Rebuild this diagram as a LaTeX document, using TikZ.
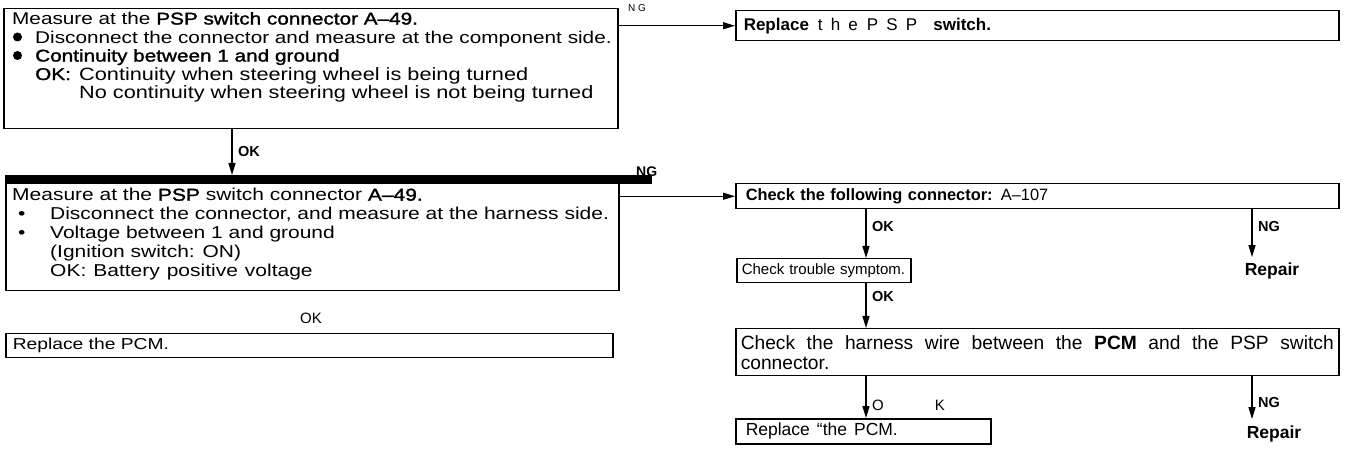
\documentclass[tikz,border=0pt]{standalone}
\usepackage{fontspec}
\setmainfont{Liberation Sans}
\newfontfamily\wide{Liberation Sans}[FakeStretch=1.22]
\newfontfamily\widebf{Liberation Sans}[FakeStretch=1.22,FakeBold=1.6]
\usetikzlibrary{arrows.meta,calc}
\begin{document}
\begin{tikzpicture}[x=1pt,y=-1pt,
  frame/.style={draw, line width=1.5pt, anchor=north west, inner ysep=0pt, align=left},
  txt/.style={anchor=north west, inner sep=0pt, align=left},
  arr/.style={line width=1.3pt, -{Triangle[length=12pt,width=7pt]}},
  lbl/.style={anchor=west, inner sep=0pt, font=\fontsize{14.5}{14.5}\selectfont\bfseries},
  rlbl/.style={anchor=west, inner sep=0pt, font=\fontsize{15}{15}\selectfont},
  rep/.style={anchor=base, inner xsep=0pt, inner ysep=6pt, font=\fontsize{17.5}{17.5}\selectfont\bfseries}]
\useasboundingbox (0,0) rectangle (1350,462);
\newcommand{\smbul}{\makebox[38pt][l]{\hspace{6pt}\textbullet}}
% box 1
\node[frame, minimum width=614pt, minimum height=120pt] (b1) at (3,8) {};
\node[txt, font=\wide\fontsize{17}{18.5}\selectfont] (t1) at (12,12) {%
Measure at the {\widebf PSP switch connector A–49.}\\
\hspace*{23pt}Disconnect the connector and measure at the component side.\\
\hspace*{23pt}{\widebf Continuity between 1 and ground}\\
\hspace*{23pt}\makebox[44pt][l]{\widebf OK:}{\fontsize{17.8}{18.5}\selectfont Continuity when steering wheel is being turned}\\
\hspace*{67pt}{\fontsize{17.8}{18.5}\selectfont No continuity when steering wheel is not being turned}};
\fill (17.5,37) circle (4.5pt) (17.5,55.5) circle (4.5pt);
% replace PSP
\node[frame, inner xsep=8pt, text width=587pt, minimum height=30pt, font=\fontsize{17}{18}\selectfont] (rp) at (735,10) {%
\textbf{Replace}\hspace{9pt}{\addfontfeature{LetterSpace=48}the\hspace{9pt}PSP}\hspace{8pt}\textbf{switch.}};
\draw[arr] (rp.west -| b1.east) -- (rp.west);
\node[anchor=west, inner sep=0pt, font=\fontsize{10}{10}\selectfont] (ng0) at (628,8) {N G};
% box 2
\node[frame, minimum width=613pt, minimum height=115pt] (b2) at (5,175) {};
\node[txt, font=\wide\fontsize{17.2}{19}\selectfont] (t2) at (12,188) {%
Measure at the {\widebf PSP} switch connector {\widebf A–49.}\\
\smbul Disconnect the connector, and measure at the harness side.\\
\smbul Voltage between 1 and ground\\
\hspace*{38pt}(Ignition switch: ON)\\
\hspace*{38pt}OK:\hspace{7pt}Battery\hspace{7pt}positive\hspace{7pt}voltage};
\node[anchor=base west, inner sep=0pt, font=\fontsize{14}{14}\selectfont\bfseries] (ng1) at (636,176.5) {NG};
\fill (b2.north west) rectangle ($(b2.north east)+(32,9)$);
\coordinate (xa) at (232,0);
\draw[arr] (b1.south -| xa) -- (b2.north -| xa);
\node[lbl] (ok0) at (238,152) {OK};
% check connector
\node[frame, inner xsep=10pt, text width=583pt, minimum height=25pt, font=\fontsize{16.4}{18}\selectfont] (ck) at (735,183) {%
\textbf{Check the following connector:} A–107};
\draw[arr] (ck.west -| b2.east) -- (ck.west);
% OK below box 2
\node[rlbl, anchor=center] (ok1) at (311,318) {OK};
% replace PCM
\node[frame, inner xsep=7pt, text width=593pt, minimum height=24pt, font=\wide\fontsize{15.8}{18}\selectfont] (rpcm) at (5,333) {Replace the PCM.};
% trouble symptom
\node[frame, inner xsep=5pt, text width=164pt, minimum height=24pt, font=\fontsize{15}{18}\selectfont] (tr) at (736,258) {Check trouble symptom.};
\coordinate (xb) at (866,0);
\coordinate (xc) at (1252,0);
\draw[arr] (ck.south -| xb) -- (tr.north -| xb);
\node[lbl] (ok2) at (872,227) {OK};
\node[rep] (r1) at (1272,276) {Repair};
\draw[arr] (ck.south -| xc) -- (r1.north -| xc);
\node[lbl] (ng2) at (1258,227) {NG};
% harness
\node[frame, inner xsep=5pt, text width=593pt, minimum height=47pt, align=justify, font=\fontsize{19.2}{20}\selectfont] (hn) at (735,328) {%
Check the harness wire between the \textbf{PCM} and the PSP switch\linebreak connector.};
\draw[arr] (tr.south -| xb) -- (hn.north -| xb);
\node[lbl] (ok3) at (872,297) {OK};
% replace "the PCM
\node[frame, inner xsep=10pt, text width=235pt, minimum height=25pt, font=\fontsize{17.5}{18}\selectfont] (rp2) at (735,418) {Replace\hspace{7pt}“the\hspace{7pt}PCM.};
\draw[arr] (hn.south -| xb) -- (rp2.north -| xb);
\node[rlbl] (ok4) at (872,405) {O\hspace{51pt}K};
\node[rep] (r2) at (1274,438) {Repair};
\draw[arr] (hn.south -| xc) -- (r2.north -| xc);
\node[lbl] (ng3) at (1258,403) {NG};
\end{tikzpicture}
\end{document}
